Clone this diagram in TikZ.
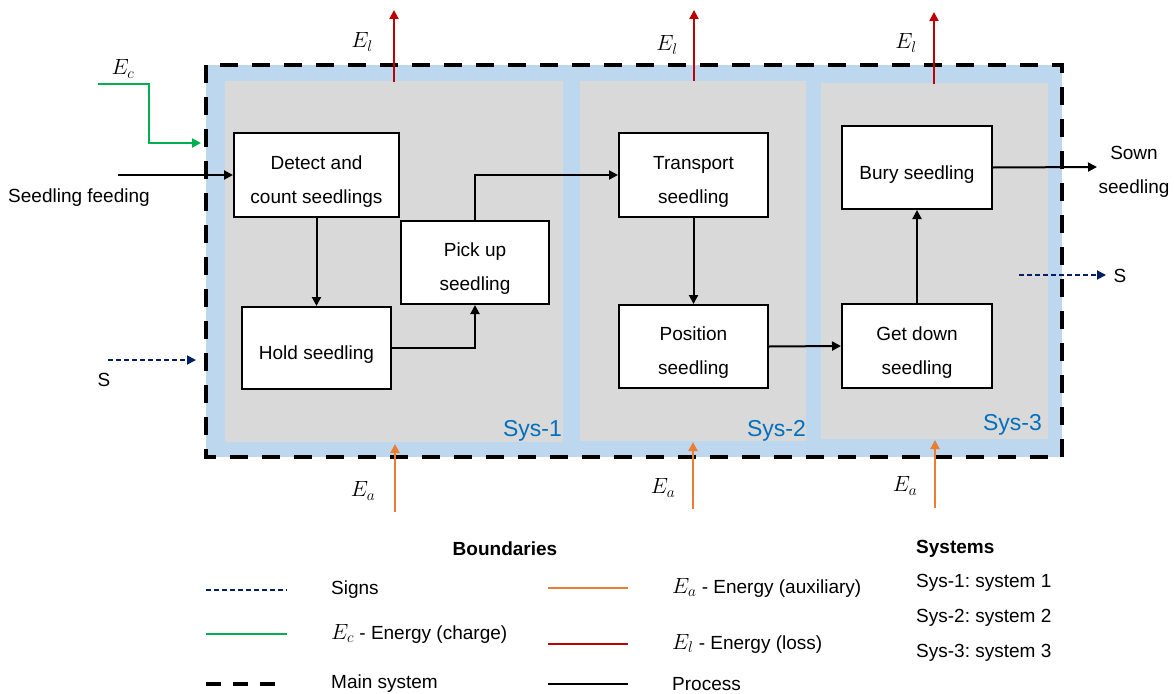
\RequirePackage{fix-cm}
\documentclass[tikz,border=0pt]{standalone}
\usepackage{fontspec}
\setmainfont{Liberation Sans}
\usetikzlibrary{arrows.meta}
\frenchspacing
\definecolor{bandblue}{HTML}{BDD7EE}
\definecolor{sysgray}{HTML}{D9D9D9}
\definecolor{signnavy}{HTML}{002060}
\definecolor{chargegreen}{HTML}{00B050}
\definecolor{lossred}{HTML}{C00000}
\definecolor{auxorange}{HTML}{ED7D31}
\definecolor{syslabel}{HTML}{0070C0}
% energy symbol, e.g. \energy{c} for E_c
\newcommand\energy[1]{{\fontsize{22}{22}\selectfont$E_{#1}$}}
\tikzset{
  txt/.style={font=\fontsize{19}{34}\selectfont, inner sep=0pt},
  proc/.style={draw=black, fill=white, line width=2pt, inner sep=0pt,
    align=center, font=\fontsize{19}{34}\selectfont},
  oneline/.style={proc, text height=27pt, text depth=4pt},
  twoline/.style={proc, text height=60pt, text depth=4pt},
  tip/.style={-{Triangle[length=9pt,width=9pt]}},
  flow/.style={tip, line width=2pt, black},
  loss/.style={tip, line width=2pt, lossred},
  aux/.style={tip, line width=2pt, auxorange},
  charge/.style={tip, line width=2pt, chargegreen},
  sign/.style={tip, line width=1.8pt, signnavy, dash pattern=on 5pt off 3pt},
  mainsys/.style={line width=4pt, black, dash pattern=on 18pt off 14pt},
  syslbl/.style={font=\fontsize{23}{23}\selectfont, text=syslabel, inner sep=0pt, anchor=base east},
}
\begin{document}
\begin{tikzpicture}[x=1pt, y=-1pt]
\useasboundingbox (0,0) rectangle (1174,693);

% main system band and subsystem panels
\fill[bandblue] (206,65) rectangle (1062,457);
\fill[sysgray] (225,81) rectangle (563,442);
\fill[sysgray] (580,81) rectangle (806,441);
\fill[sysgray] (821,83) rectangle (1048,439);
\draw[mainsys] (206,65) rectangle (1062,457);

\node[syslbl] (s1) at (562,436) {Sys-1};
\node[syslbl] (s2) at (806,436) {Sys-2};
\node[syslbl] (s3) at (1042,430) {Sys-3};

% process blocks
\node[twoline, minimum width=165pt, minimum height=84pt] (detect) at (316.5,175) {Detect and\\count seedlings};
\node[oneline, minimum width=149pt, minimum height=82pt] (hold) at (316.5,348) {Hold seedling};
\node[twoline, minimum width=148pt, minimum height=83pt] (pick) at (475,262.5) {Pick up\\seedling};
\node[twoline, minimum width=149pt, minimum height=84pt] (transport) at (693.5,175) {Transport\\seedling};
\node[twoline, minimum width=149pt, minimum height=83pt] (position) at (693.5,346.5) {Position\\seedling};
\node[oneline, minimum width=150pt, minimum height=83pt] (bury) at (917,167.5) {Bury seedling};
\node[twoline, minimum width=150pt, minimum height=84pt] (getdown) at (917,346) {Get down\\seedling};

% process flow
\coordinate (feedin) at (118,175);
\draw[flow] (feedin) -- (detect.west);
\node[txt, anchor=base west] (feedlbl) at (8,202) {Seedling feeding};
\draw[flow] (detect.south) -- (hold.north);
\draw[flow] (hold.east) -| (pick.south);
\draw[flow] (pick.north) |- (transport.west);
\draw[flow] (transport.south) -- (position.north);
\draw[flow] (position.east) -- (getdown.west);
\draw[flow] (getdown.north) -- (bury.south);
\coordinate (sownend) at (1097,167);
\draw[flow] (bury.east) -- (sownend);
\node[txt, align=center] (sownlbl) at (1134,172) {Sown\\seedling};

% charge energy
\coordinate (ecstart) at (98,84);
\coordinate (ecend) at (201,143);
\draw[charge] (ecstart) -- (149,84) -- (149,143) -- (ecend);
\node[txt] (eclbl) at (123,69) {\energy{c}};

% signs
\coordinate (sinA) at (108,360);
\coordinate (sinB) at (196,360);
\draw[sign] (sinA) -- (sinB);
\node[txt] (sinlbl) at (104,380) {S};
\coordinate (soutA) at (1019,275);
\coordinate (soutB) at (1106,275);
\draw[sign] (soutA) -- (soutB);
\node[txt] (soutlbl) at (1120,276) {S};

% energy losses
\coordinate (la1) at (394,82);  \coordinate (lb1) at (394,10);
\coordinate (la2) at (694,81);  \coordinate (lb2) at (694,10);
\coordinate (la3) at (934,84);  \coordinate (lb3) at (934,12);
\draw[loss] (la1) -- (lb1);
\draw[loss] (la2) -- (lb2);
\draw[loss] (la3) -- (lb3);
\node[txt] (el1) at (362,42) {\energy{l}};
\node[txt] (el2) at (667,45) {\energy{l}};
\node[txt] (el3) at (906,43) {\energy{l}};

% auxiliary energy
\coordinate (aa1) at (395,512); \coordinate (ab1) at (395,444);
\coordinate (aa2) at (693,509); \coordinate (ab2) at (693,442);
\coordinate (aa3) at (935,508); \coordinate (ab3) at (935,440);
\draw[aux] (aa1) -- (ab1);
\draw[aux] (aa2) -- (ab2);
\draw[aux] (aa3) -- (ab3);
\node[txt] (ea1) at (363,491) {\energy{a}};
\node[txt] (ea2) at (663,488) {\energy{a}};
\node[txt] (ea3) at (905,486) {\energy{a}};

% legend: boundaries
\node[txt, font=\fontsize{19}{34}\selectfont\bfseries] (bndtitle) at (505,549) {Boundaries};
\coordinate (lg1a) at (206,590); \coordinate (lg1b) at (287,590);
\draw[line width=1.8pt, signnavy, dash pattern=on 5pt off 3pt] (lg1a) -- (lg1b);
\node[txt, anchor=west] (lgsigns) at (331,590) {Signs};
\coordinate (lg2a) at (206,634); \coordinate (lg2b) at (287,634);
\draw[line width=2pt, chargegreen] (lg2a) -- (lg2b);
\node[txt, anchor=west] (lgcharge) at (331,634) {\energy{c} - Energy (charge)};
\coordinate (lg3a) at (206,684); \coordinate (lg3b) at (276,684);
\draw[line width=4pt, black, dash pattern=on 15pt off 12pt] (lg3a) -- (lg3b);
\node[txt, anchor=west] (lgmain) at (331,684) {Main system};

\coordinate (lg4a) at (548,588); \coordinate (lg4b) at (628,588);
\draw[line width=2pt, auxorange] (lg4a) -- (lg4b);
\node[txt, anchor=west] (lgaux) at (672,588) {\energy{a} - Energy (auxiliary)};
\coordinate (lg5a) at (548,644); \coordinate (lg5b) at (628,644);
\draw[line width=2pt, lossred] (lg5a) -- (lg5b);
\node[txt, anchor=west] (lgloss) at (672,644) {\energy{l} - Energy (loss)};
\coordinate (lg6a) at (548,684); \coordinate (lg6b) at (628,684);
\draw[line width=2pt, black] (lg6a) -- (lg6b);
\node[txt, anchor=west] (lgproc) at (672,684) {Process};

% legend: systems
\node[txt, anchor=west, font=\fontsize{19}{34}\selectfont\bfseries] (systitle) at (916,549) {Systems};
\node[txt, anchor=west] (sysone) at (916,583) {Sys-1: system 1};
\node[txt, anchor=west] (systwo) at (916,618) {Sys-2: system 2};
\node[txt, anchor=west] (systhree) at (916,653) {Sys-3: system 3};
\end{tikzpicture}
\end{document}
